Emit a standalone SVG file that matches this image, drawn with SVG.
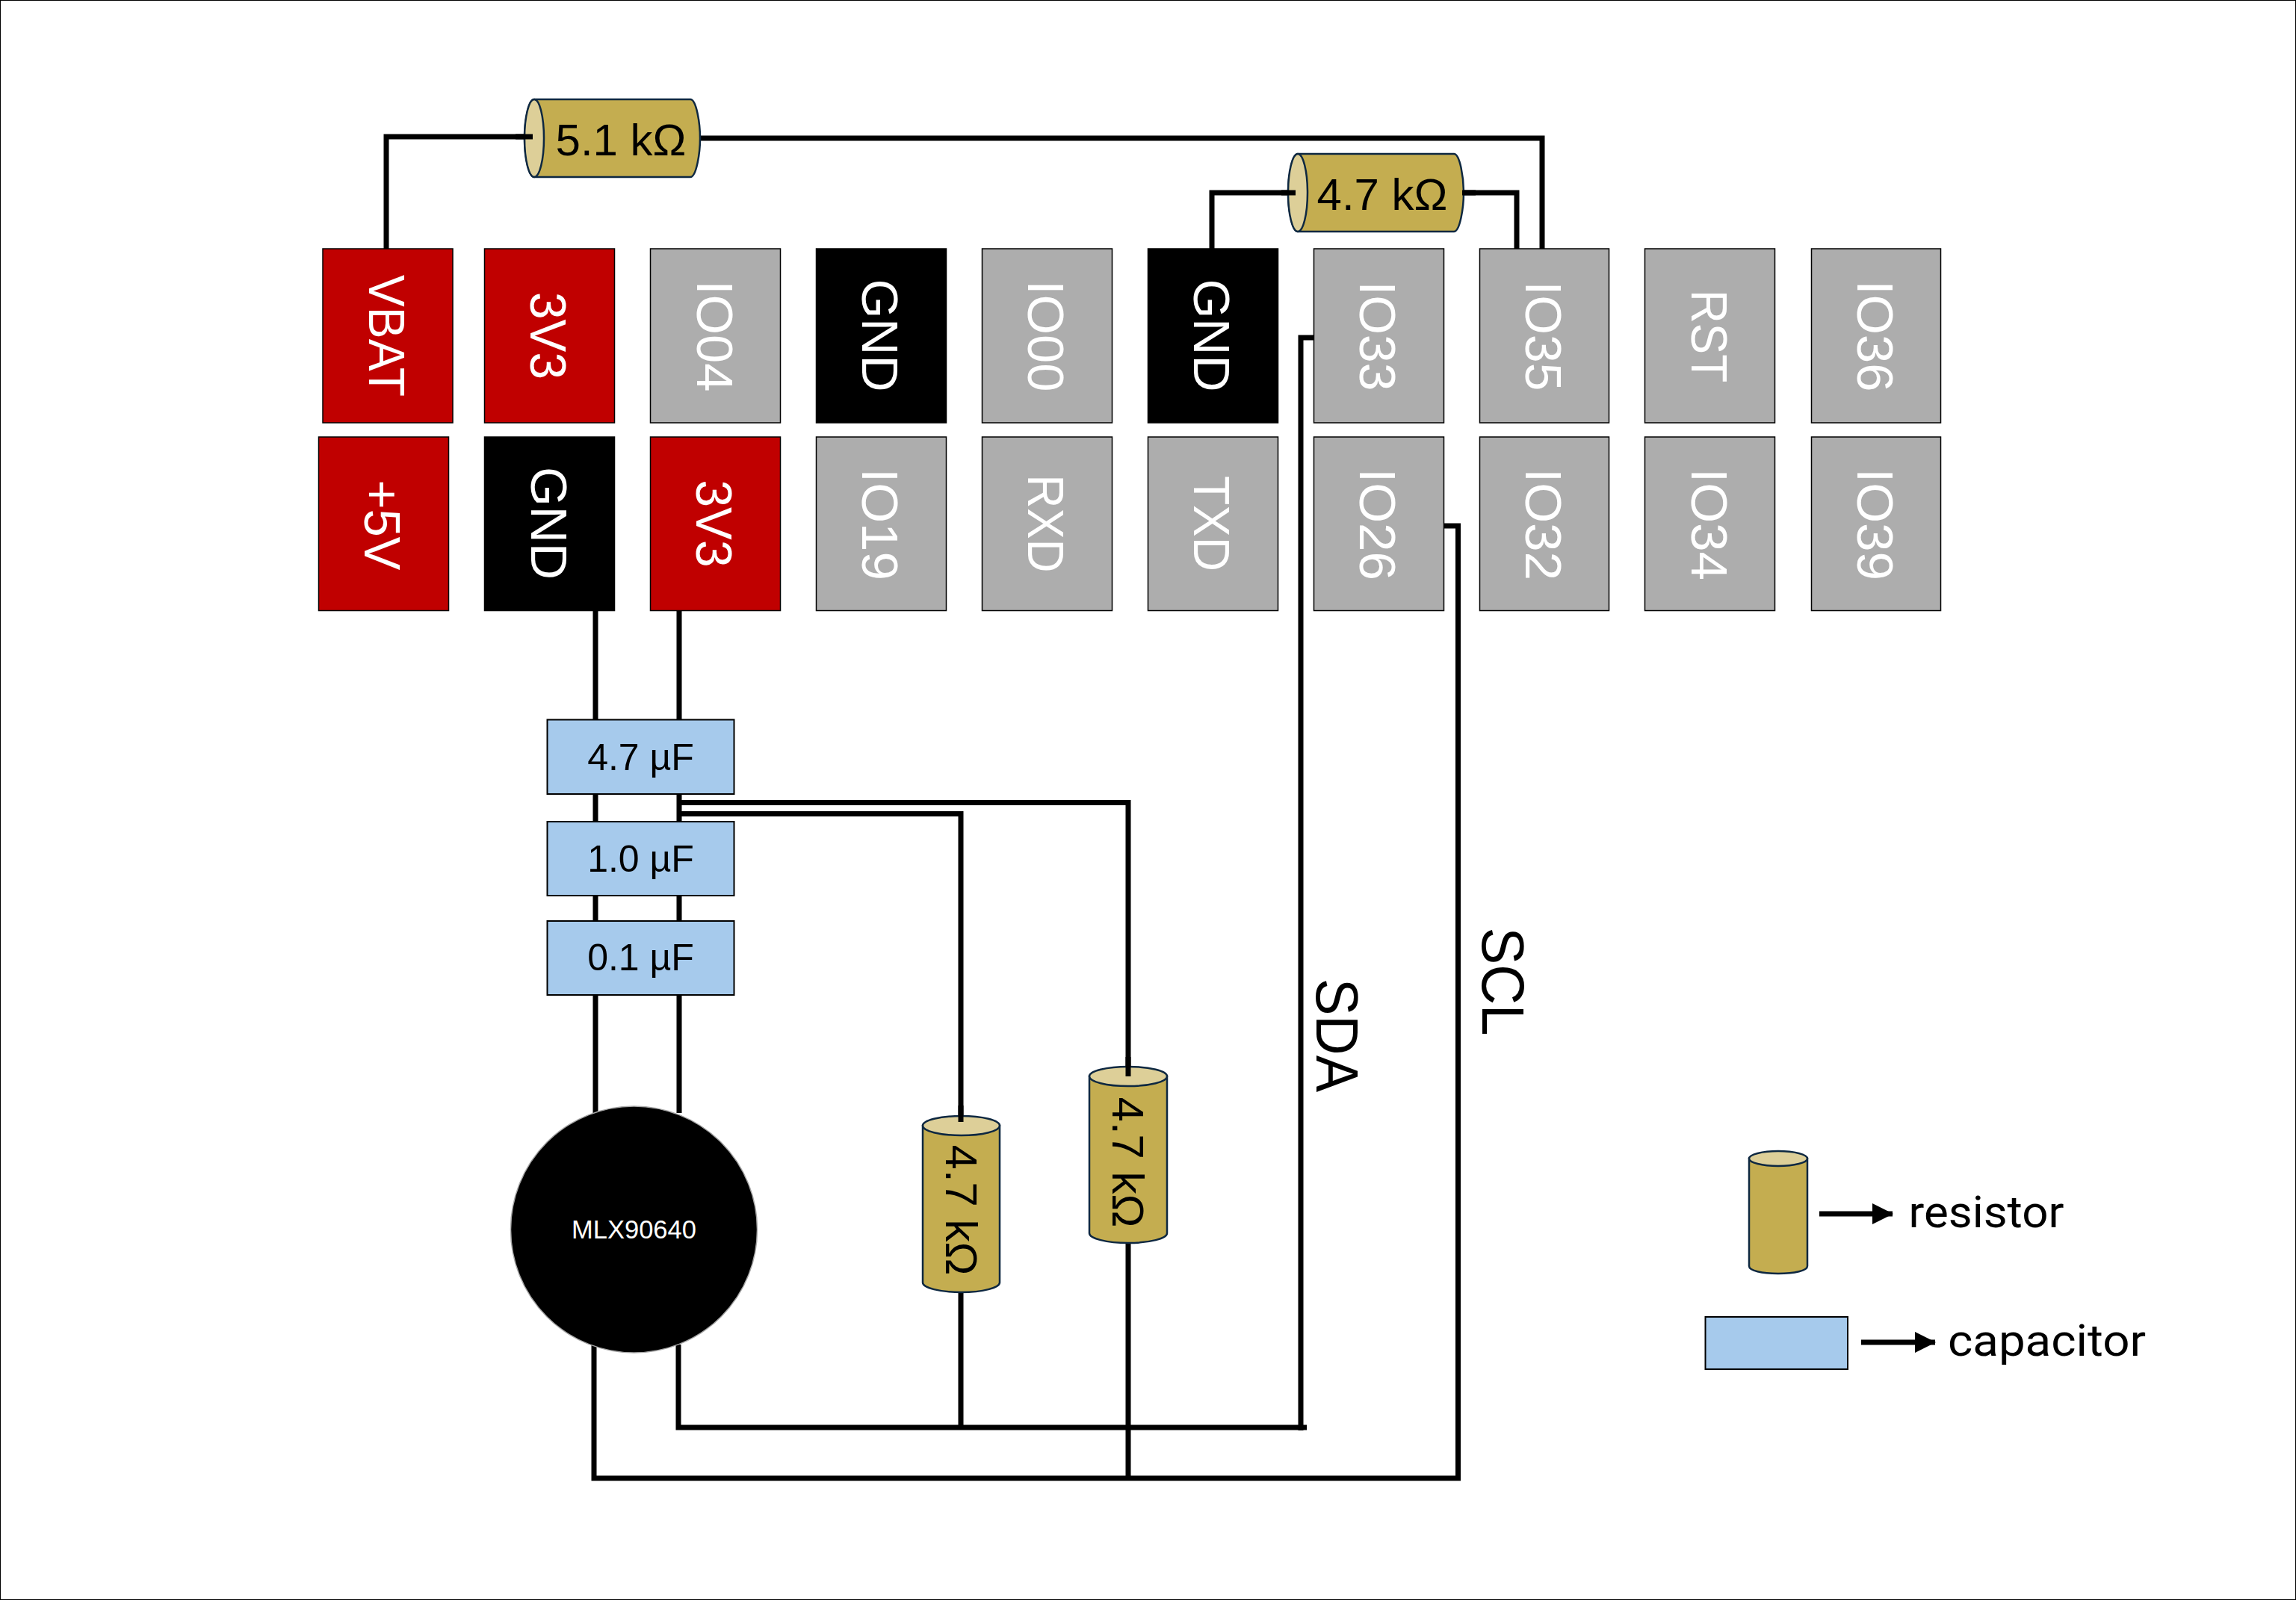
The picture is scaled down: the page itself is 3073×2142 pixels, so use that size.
<svg xmlns="http://www.w3.org/2000/svg" width="3073" height="2142" viewBox="0 0 3073 2142">
<defs>
<style>
text{font-family:"Liberation Sans",Arial,sans-serif}
.pin{stroke:#000;stroke-width:1.500}
.red{fill:#C00000}.blk{fill:#000}.gry{fill:#ADADAD}
.pl{font-size:68px;fill:#fff;text-anchor:middle}
.wn{fill:none;stroke:#000;stroke-width:7}
.body{fill:#C4AD50;stroke:#0E2841;stroke-width:2.500}
.capend{fill:#DDCF98;stroke:#0E2841;stroke-width:2.500}
.cap{fill:#A6CAEC;stroke:#000;stroke-width:2}
.val{font-size:60px;fill:#000;text-anchor:middle}
.cv{font-size:50px;fill:#000;text-anchor:middle}
.bus{font-size:79px;fill:#000;text-anchor:middle}
.leg{font-size:60px;fill:#000;font-family:"Roboto","Liberation Sans",sans-serif}
</style>
<marker id="ah" markerUnits="userSpaceOnUse" markerWidth="28" markerHeight="28" refX="27" refY="14" orient="auto"><path d="M0 0L28 14L0 28Z" fill="#000"/></marker>
</defs>
<rect x="0" y="0" width="3073" height="2142" fill="#fff"/>
<rect x="0" y="0" width="3073" height="2142" fill="none" stroke="#000" stroke-width="2"/>

<g id="connectors">
<path class="wn" d="M517 333V183H713"/>
<path class="wn" d="M938 185H2064V336"/>
<path class="wn" d="M1622 333V258H1734"/>
<path class="wn" d="M1957 258H2030V333"/>
<path class="wn" d="M1762 452H1741V1915"/>
<path class="wn" d="M908 1800V1911H1749"/>
<path class="wn" d="M1933 704H1951.500V1979H795V1800"/>
<path class="wn" d="M1286 1730V1911"/>
<path class="wn" d="M1510 1664V1979"/>
<path class="wn" d="M797 817V1490"/>
<path class="wn" d="M909 817V1490"/>
<path class="wn" d="M909 1074.500H1510V1441"/>
<path class="wn" d="M909 1089.500H1286V1502"/>
</g>

<g id="res-51k">
<path class="body" d="M715 133H924C932 133 937 165 937 185C937 205 932 237 924 237H715C707 237 702 205 702 185C702 165 707 133 715 133Z"/>
<ellipse class="capend" cx="715" cy="185" rx="13" ry="52"/>
<path d="M690 183H713" class="wn"/>
<text class="val" x="831" y="208">5.1 kΩ</text>
</g>
<g id="res-47k-top">
<path class="body" d="M1737 206H1946C1954 206 1959 238 1959 258C1959 278 1954 310 1946 310H1737C1729 310 1724 278 1724 258C1724 238 1729 206 1737 206Z"/>
<ellipse class="capend" cx="1737" cy="258" rx="13" ry="52"/>
<path d="M1715 258H1734" class="wn"/>
<path d="M1957 258H1975" class="wn"/>
<text class="val" x="1850" y="281">4.7 kΩ</text>
</g>

<g id="pin-vbat"><rect class="pin red" x="432" y="333" width="174" height="233"/><text class="pl" textLength="163" lengthAdjust="spacingAndGlyphs" transform="translate(518 449.500) rotate(90)" y="24">VBAT</text></g>
<g id="pin-3v3-a"><rect class="pin red" x="648.500" y="333" width="174" height="233"/><text class="pl" textLength="117" lengthAdjust="spacingAndGlyphs" transform="translate(734 449.500) rotate(90)" y="24">3V3</text></g>
<g id="pin-io04"><rect class="pin gry" x="870.500" y="333" width="174" height="233"/><text class="pl" textLength="149" lengthAdjust="spacingAndGlyphs" transform="translate(957 450) rotate(90)" y="24">IO04</text></g>
<g id="pin-gnd-a"><rect class="pin blk" x="1092.500" y="333" width="174" height="233"/><text class="pl" transform="translate(1178 449) rotate(90)" y="24">GND</text></g>
<g id="pin-io00"><rect class="pin gry" x="1314.500" y="333" width="174" height="233"/><text class="pl" textLength="149" lengthAdjust="spacingAndGlyphs" transform="translate(1400 450) rotate(90)" y="24">IO00</text></g>
<g id="pin-gnd-b"><rect class="pin blk" x="1536.500" y="333" width="174" height="233"/><text class="pl" transform="translate(1622 449) rotate(90)" y="24">GND</text></g>
<g id="pin-io33"><rect class="pin gry" x="1758.500" y="333" width="174" height="233"/><text class="pl" textLength="147" lengthAdjust="spacingAndGlyphs" transform="translate(1844 450) rotate(90)" y="24">IO33</text></g>
<g id="pin-io35"><rect class="pin gry" x="1980.500" y="333" width="173" height="233"/><text class="pl" textLength="147" lengthAdjust="spacingAndGlyphs" transform="translate(2066 450) rotate(90)" y="24">IO35</text></g>
<g id="pin-rst"><rect class="pin gry" x="2201.500" y="333" width="174" height="233"/><text class="pl" textLength="124" lengthAdjust="spacingAndGlyphs" transform="translate(2288 450) rotate(90)" y="24">RST</text></g>
<g id="pin-io36"><rect class="pin gry" x="2424.500" y="333" width="173" height="233"/><text class="pl" textLength="149" lengthAdjust="spacingAndGlyphs" transform="translate(2510 450) rotate(90)" y="24">IO36</text></g>

<g id="pin-5v"><rect class="pin red" x="426.500" y="585" width="174" height="232.500"/><text class="pl" textLength="121" lengthAdjust="spacingAndGlyphs" transform="translate(512 703) rotate(90)" y="24">+5V</text></g>
<g id="pin-gnd-c"><rect class="pin blk" x="648.500" y="585" width="174" height="232.500"/><text class="pl" transform="translate(735 700.500) rotate(90)" y="24">GND</text></g>
<g id="pin-3v3-b"><rect class="pin red" x="870.500" y="585" width="174" height="232.500"/><text class="pl" textLength="117" lengthAdjust="spacingAndGlyphs" transform="translate(956 701) rotate(90)" y="24">3V3</text></g>
<g id="pin-io19"><rect class="pin gry" x="1092.500" y="585" width="174" height="232.500"/><text class="pl" textLength="150" lengthAdjust="spacingAndGlyphs" transform="translate(1178 702) rotate(90)" y="24">IO19</text></g>
<g id="pin-rxd"><rect class="pin gry" x="1314.500" y="585" width="174" height="232.500"/><text class="pl" textLength="131" lengthAdjust="spacingAndGlyphs" transform="translate(1400 701) rotate(90)" y="24">RXD</text></g>
<g id="pin-txd"><rect class="pin gry" x="1536.500" y="585" width="174" height="232.500"/><text class="pl" textLength="128" lengthAdjust="spacingAndGlyphs" transform="translate(1622 701) rotate(90)" y="24">TXD</text></g>
<g id="pin-io26"><rect class="pin gry" x="1758.500" y="585" width="174" height="232.500"/><text class="pl" textLength="150" lengthAdjust="spacingAndGlyphs" transform="translate(1844 702) rotate(90)" y="24">IO26</text></g>
<g id="pin-io32"><rect class="pin gry" x="1980.500" y="585" width="173" height="232.500"/><text class="pl" textLength="150" lengthAdjust="spacingAndGlyphs" transform="translate(2066 702) rotate(90)" y="24">IO32</text></g>
<g id="pin-io34"><rect class="pin gry" x="2201.500" y="585" width="174" height="232.500"/><text class="pl" textLength="150" lengthAdjust="spacingAndGlyphs" transform="translate(2288 702) rotate(90)" y="24">IO34</text></g>
<g id="pin-io39"><rect class="pin gry" x="2424.500" y="585" width="173" height="232.500"/><text class="pl" textLength="150" lengthAdjust="spacingAndGlyphs" transform="translate(2510 702) rotate(90)" y="24">IO39</text></g>

<g id="cap-47"><rect class="cap" x="732.500" y="963.500" width="250" height="99.500"/><text class="cv" x="857.500" y="1031">4.7 µF</text></g>
<g id="cap-10"><rect class="cap" x="732.500" y="1100" width="250" height="99"/><text class="cv" x="857.500" y="1167">1.0 µF</text></g>
<g id="cap-01"><rect class="cap" x="732.500" y="1233" width="250" height="99"/><text class="cv" x="857.500" y="1299">0.1 µF</text></g>

<g id="mlx90640"><circle cx="848.500" cy="1646" r="165" fill="#000" stroke="#A6A6A6" stroke-width="1.500"/><text x="848.500" y="1658" font-size="34.500" fill="#fff" text-anchor="middle">MLX90640</text></g>

<g id="res-47k-a">
<path class="body" d="M1235 1507V1717C1235 1724 1258 1730 1286.500 1730C1315 1730 1338 1724 1338 1717V1507Z"/>
<ellipse class="capend" cx="1286.500" cy="1507" rx="51.500" ry="13"/>
<path class="wn" d="M1286 1480V1502"/>
<text class="val" transform="translate(1286.500 1620) rotate(90)" y="21">4.7 kΩ</text>
</g>
<g id="res-47k-b">
<path class="body" d="M1458 1441V1651C1458 1658 1481 1664 1510 1664C1539 1664 1562 1658 1562 1651V1441Z"/>
<ellipse class="capend" cx="1510" cy="1441" rx="52" ry="13"/>
<path class="wn" d="M1510 1415V1441"/>
<text class="val" transform="translate(1510 1556) rotate(90)" y="21">4.7 kΩ</text>
</g>

<g id="label-sda"><text class="bus" textLength="152" lengthAdjust="spacingAndGlyphs" transform="translate(1790 1386) rotate(90)" y="28">SDA</text></g>
<g id="label-scl"><text class="bus" textLength="145" lengthAdjust="spacingAndGlyphs" transform="translate(2012 1314) rotate(90)" y="28">SCL</text></g>

<g id="legend-resistor">
<path class="body" d="M2341 1551V1695C2341 1701 2358 1705 2380 1705C2402 1705 2419 1701 2419 1695V1551Z"/>
<ellipse class="capend" cx="2380" cy="1551" rx="39" ry="10"/>
<path class="wn" d="M2435 1625H2533" marker-end="url(#ah)"/>
<text class="leg" x="2554.500" y="1643" textLength="208" lengthAdjust="spacingAndGlyphs">resistor</text>
</g>
<g id="legend-capacitor">
<rect class="cap" x="2282.500" y="1763" width="190.500" height="70"/>
<path class="wn" d="M2491 1797H2590" marker-end="url(#ah)"/>
<text class="leg" x="2607" y="1815" textLength="265" lengthAdjust="spacingAndGlyphs">capacitor</text>
</g>
</svg>
